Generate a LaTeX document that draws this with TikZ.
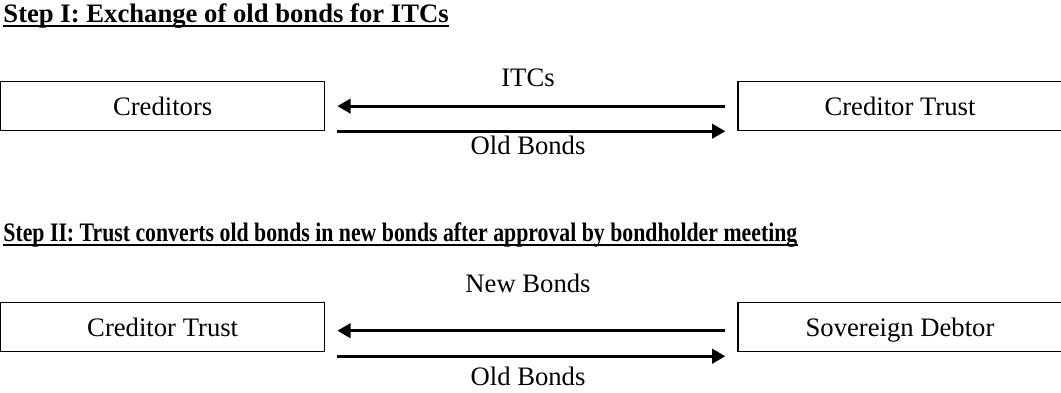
\documentclass[tikz,border=0pt]{standalone}
\usepackage{graphicx}
\usepackage{fontspec}
\setmainfont{Liberation Serif}
\usetikzlibrary{positioning, arrows.meta}

\begin{document}
\begin{tikzpicture}[
    x=0.45pt, y=-0.45pt,
    node distance=185.4pt,
    party/.style={rectangle, draw, line width=0.6pt, minimum width=145.8pt, minimum height=22pt, text height=8.4pt, text depth=0pt, text centered, inner sep=0pt},
    flow/.style={line width=1.4pt, -{Triangle[length=6pt,width=6.5pt]}},
    heading/.style={anchor=base west, font=\bfseries, inner sep=0pt},
    label/.style={anchor=base, inner sep=0pt},
    rule/.style={line width=1.1pt}
]
\useasboundingbox (0,0) rectangle (1061,392);
\fontsize{12}{14}\selectfont
% Step I
\node (stepone) [heading] at (3,22) {Step I: Exchange of old bonds for ITCs};
\draw [rule] ([yshift=-1.8pt]stepone.base west) -- ([yshift=-1.8pt]stepone.base east);
\node (creditors) [party, anchor=north west] at (0,81) {Creditors};
\node (trust) [party, right=of creditors] {Creditor Trust};
\draw [flow] ([xshift=-5.4pt]trust.west) -- ([xshift=5.4pt]creditors.east);
\draw [flow] ([xshift=5.4pt]creditors.south east) -- ([xshift=-5.4pt]trust.south west);
\node (itcs) [label] at (528,86) {ITCs};
\node (oldone) [label] at (528,154) {Old Bonds};
% Step II
\node (steptwo) [heading] at (3,241) {\scalebox{0.817}[1]{Step II: Trust converts old bonds in new bonds after approval by bondholder meeting}};
\draw [rule] ([yshift=-1.8pt]steptwo.base west) -- ([yshift=-1.8pt]steptwo.base east);
\node (trusttwo) [party, anchor=north west] at (0,302) {Creditor Trust};
\node (debtor) [party, right=of trusttwo] {Sovereign Debtor};
\draw [flow] ([xshift=-5.4pt,yshift=-1.6pt]debtor.west) -- ([xshift=5.4pt,yshift=-1.6pt]trusttwo.east);
\draw [flow] ([xshift=5.4pt,yshift=-1.8pt]trusttwo.south east) -- ([xshift=-5.4pt,yshift=-1.8pt]debtor.south west);
\node (newbonds) [label] at (528,292) {New Bonds};
\node (oldtwo) [label] at (528,385) {Old Bonds};
\end{tikzpicture}
\end{document}
